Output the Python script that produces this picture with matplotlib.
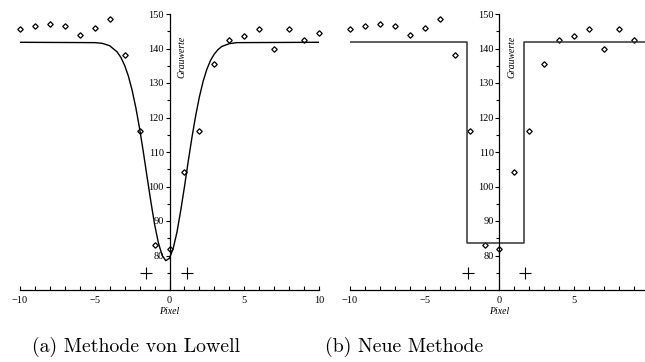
import matplotlib
matplotlib.use("Agg")
import matplotlib.pyplot as plt
from matplotlib.ticker import MultipleLocator

# measured grey values (both panels show the same profile)
pixel = [-10, -9, -8, -7, -6, -5, -4, -3, -2, -1, 0, 1, 2, 3, 4, 5, 6, 7, 8, 9, 10]
grauwert = [145.7, 146.6, 147.1, 146.4, 143.8, 145.9, 148.6, 138.0, 116.1, 83.0, 82.0,
            104.2, 116.1, 135.6, 142.6, 143.7, 145.7, 139.9, 145.7, 142.4, 144.5]

# fitted curve of Lowell's method
lowell_x = [-10, -5, -4.5, -4, -3.5, -3.25, -3, -2.75, -2.5, -2.25, -2, -1.75, -1.5, -1.25,
            -1, -0.75, -0.5, -0.25, 0, 0.25, 0.5, 0.75, 1, 1.25, 1.5, 1.75, 2, 2.25, 2.5,
            2.75, 3, 3.25, 3.5, 4, 4.5, 10]
lowell_y = [141.8, 141.7, 141.5, 140.8, 139.0, 137.4, 135.1, 132.0, 127.9, 122.8, 116.8,
            110.0, 102.8, 95.7, 89.1, 83.8, 80.1, 78.5, 79.2, 82.1, 86.8, 93.0, 99.9, 107.2,
            114.2, 120.5, 126.0, 130.5, 134.0, 136.6, 138.4, 139.7, 140.6, 141.4, 141.7, 141.8]

# step model of the new method
neu_x = [-10, -2.18, -2.18, 1.67, 1.67, 10]
neu_y = [141.8, 141.8, 83.6, 83.6, 141.8, 141.8]

# detected edge positions
kanten_lowell = [-1.59, 1.15]
kanten_neu = [-2.08, 1.72]
kanten_y = 75

captions = ["(a) Methode von Lowell", "(b) Neue Methode"]

tick_font = "Liberation Serif"

fig = plt.figure(figsize=(6.45, 3.62), dpi=100)
ax1 = fig.add_axes([20 / 645, 72 / 362, 299 / 645, 276 / 362])
ax2 = fig.add_axes([350 / 645, 72 / 362, 299 / 645, 276 / 362])


def style_axes(ax):
    ax.set_xlim(-10, 10)
    ax.set_ylim(70, 150)
    ax.spines["top"].set_visible(False)
    ax.spines["right"].set_visible(False)
    ax.spines["left"].set_position(("data", 0))
    ax.spines["left"].set_linewidth(0.9)
    ax.spines["bottom"].set_linewidth(0.9)
    ax.xaxis.set_major_locator(MultipleLocator(5))
    ax.xaxis.set_minor_locator(MultipleLocator(1))
    ax.yaxis.set_minor_locator(MultipleLocator(5))
    ax.set_yticks(range(80, 151, 10))
    ax.tick_params(axis="x", which="both", direction="in", length=3, width=0.8,
                   labelsize=7.5, pad=4)
    ax.tick_params(axis="y", which="major", direction="out", length=3, width=0.8,
                   labelsize=7.5, pad=1)
    ax.tick_params(axis="y", which="minor", direction="out", length=2, width=0.8)
    for lab in ax.get_xticklabels() + ax.get_yticklabels():
        lab.set_fontfamily(tick_font)
    ax.set_xlabel("Pixel", fontfamily=tick_font, fontstyle="italic", fontsize=7, labelpad=1.5)
    ax.text(0.85, 137.5, "Grauwerte", rotation=90, ha="center", va="center",
            fontfamily=tick_font, fontstyle="italic", fontsize=7)
    ax.plot(pixel, grauwert, linestyle="none", marker="D", markersize=2.8,
            markerfacecolor="white", markeredgecolor="black", markeredgewidth=0.9,
            clip_on=False)
    ax.patch.set_alpha(0)


style_axes(ax1)
ax1.plot(lowell_x, lowell_y, color="black", linewidth=1.0)
ax1.plot(kanten_lowell, [kanten_y] * 2, linestyle="none", marker="+", markersize=9,
         markeredgewidth=0.8, color="black")

style_axes(ax2)
ax2.plot(neu_x, neu_y, color="#333333", linewidth=1.1)
ax2.plot(kanten_neu, [kanten_y] * 2, linestyle="none", marker="+", markersize=9,
         markeredgewidth=0.8, color="black")

fig.text(136 / 645, 1 - 347 / 362, captions[0], ha="center", va="center",
         fontfamily="cmr10", fontsize=14.3)
fig.text(404 / 645, 1 - 347 / 362, captions[1], ha="center", va="center",
         fontfamily="cmr10", fontsize=14.3)

fig.savefig("out.png", dpi=100)
